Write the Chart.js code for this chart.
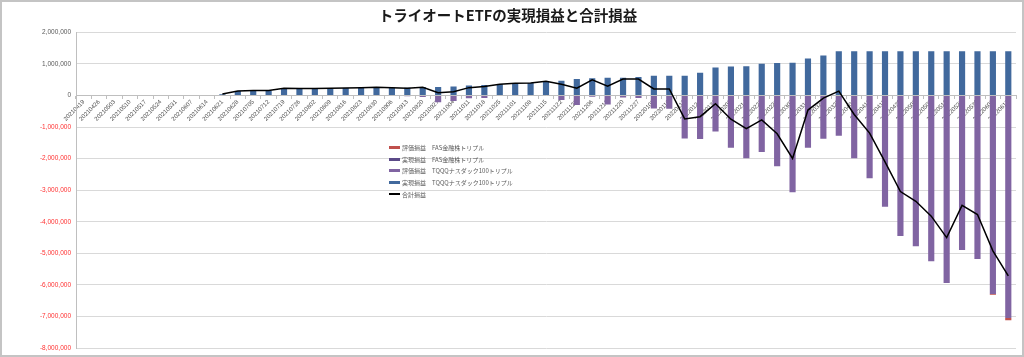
<!DOCTYPE html>
<html><head><meta charset="utf-8">
<script src="https://cdn.jsdelivr.net/npm/chart.js@4"></script>
<style>
html,body{margin:0;padding:0;background:#fff;}
#wrap{position:relative;width:1024px;height:357px;overflow:hidden;}
#frame{position:absolute;left:0;top:0;width:1024px;height:357px;box-sizing:border-box;border:2px solid #c4c4c4;pointer-events:none;}
#legend{position:absolute;left:389px;top:142px;font-family:"Noto Sans CJK JP",sans-serif;font-size:6px;color:#595959;}
.row{height:11.6px;display:flex;align-items:center;white-space:nowrap;}
.sw{width:11px;height:3px;margin-right:2px;}
.swl{width:11px;height:1.5px;margin-right:2px;background:#000;}
</style></head>
<body>
<div id="wrap"><canvas id="c" width="1024" height="357"></canvas><div id="legend"></div><div id="frame"></div></div>
<script>
const categories = ['20210419','20210426','20210503','20210510','20210517','20210524','20210531','20210607','20210614','20210621','20210628','20210705','20210712','20210719','20210726','20210802','20210809','20210816','20210823','20210830','20210906','20210913','20210920','20210927','20211004','20211011','20211018','20211025','20211101','20211108','20211115','20211122','20211129','20211206','20211213','20211220','20211227','20220103','20220110','20220117','20220124','20220131','20220207','20220214','20220221','20220228','20220307','20220314','20220321','20220328','20220404','20220411','20220418','20220425','20220502','20220509','20220516','20220523','20220530','20220606','20220613'];

const tqqqRealized = [null,null,null,null,null,null,null,null,null,
  40000,140000,160000,160000,230000,220000,220000,230000,240000,250000,260000,250000,250000,270000,270000,290000,320000,330000,360000,400000,400000,450000,470000,520000,550000,560000,560000,590000,630000,630000,630000,720000,890000,920000,930000,1010000,1030000,1040000,1170000,1270000,
  1400000,1400000,1400000,1400000,1400000,1400000,1400000,1400000,1400000,1400000,1400000,1400000];

const tqqqUnrealized = [null,null,null,null,null,null,null,null,null,
  0,0,0,0,0,0,0,0,0,0,0,0,-20000,-50000,-210000,-170000,-85000,-80000,0,0,0,0,-140000,-300000,-40000,-280000,-60000,-80000,-410000,-420000,-1360000,-1380000,-1140000,-1650000,-1990000,-1790000,-2240000,-3060000,-1650000,-1370000,-1270000,-1990000,-2620000,-3520000,-4450000,-4770000,-5250000,-5940000,-4890000,-5180000,-6290000,-7050000];

const fasRealized = [null,null,null,null,null,null,null,null,null,
  0,0,0,0,0,0,0,0,0,0,0,0,0,0,0,0,0,0,0,0,0,0,0,0,0,0,0,0,0,0,0,0,0,0,0,0,0,0,0,0,0,0,0,0,0,0,0,0,0,0,0,0];

const fasUnrealized = [null,null,null,null,null,null,null,null,null,
  0,0,0,0,0,0,0,0,0,0,0,0,0,0,0,0,0,0,0,0,0,0,0,0,0,0,0,0,0,0,0,0,0,0,0,0,0,0,0,0,0,0,0,0,0,0,0,0,0,0,-20000,-70000];

const totalPL = [null,null,null,null,null,null,null,null,null,
  50000,140000,160000,160000,230000,220000,220000,230000,240000,250000,260000,250000,230000,260000,90000,120000,250000,290000,360000,390000,400000,450000,360000,230000,500000,300000,520000,520000,210000,210000,-740000,-670000,-260000,-750000,-1050000,-770000,-1210000,-1990000,-460000,-80000,140000,-600000,-1190000,-2100000,-3040000,-3350000,-3820000,-4500000,-3480000,-3770000,-4920000,-5710000];

const yTicks = {min: -8000000, max: 2000000, step: 1000000};
const titleText = 'トライオートETFの実現損益と合計損益';

const C_BLUE = '#41699d', C_PURPLE = '#8064a2', C_DPURPLE = '#5b4a88', C_RED = '#c0504d';

const datasets = [
  {type:'bar', label:'実現損益　TQQQナスダック100トリプル', data:tqqqRealized, backgroundColor:C_BLUE, order:1},
  {type:'bar', label:'評価損益　TQQQナスダック100トリプル', data:tqqqUnrealized, backgroundColor:C_PURPLE, order:1},
  {type:'bar', label:'実現損益　FAS金融株トリプル', data:fasRealized, backgroundColor:C_DPURPLE, order:1},
  {type:'bar', label:'評価損益　FAS金融株トリプル', data:fasUnrealized, backgroundColor:C_RED, order:1},
  {type:'line', label:'合計損益', data:totalPL, borderColor:'#000', backgroundColor:'#000', borderWidth:1.5, pointRadius:0, tension:0, stack:'total', order:0}
];
datasets.forEach(d => { if (d.type === 'bar') { d.stack = 'pl'; d.barPercentage = 0.4; d.categoryPercentage = 1.0; } });

const chart = new Chart(document.getElementById('c'), {
  data: {labels: categories, datasets},
  options: {
    responsive: false, animation: false,
    layout: {padding: {left: 0, right: 8, top: 0, bottom: 8}},
    plugins: {
      legend: {display: false},
      tooltip: {enabled: false},
      title: {display: true, text: titleText, color: '#1a1a1a',
        font: {family: '"Noto Sans CJK JP"', size: 14.5, weight: 'bold'}, padding: {top: 7, bottom: 8}}
    },
    scales: {
      x: {
        position: {y: 0}, stacked: true, offset: true,
        grid: {display: true, drawOnChartArea: false, drawTicks: true, tickLength: 3, color: '#bfbfbf', offset: true},
        border: {display: true, color: '#bfbfbf'},
        ticks: {autoSkip: false, minRotation: 45, maxRotation: 45, padding: 0, color: '#4d4d4d',
          font: {family: '"Liberation Sans"', size: 6}}
      },
      y: {
        stacked: true, min: yTicks.min, max: yTicks.max,
        grid: {color: '#d9d9d9', drawTicks: false},
        border: {display: true, color: '#bfbfbf'},
        ticks: {stepSize: yTicks.step, padding: 5,
          callback: v => Number(v).toLocaleString('en-US'),
          color: ctx => (ctx.tick && ctx.tick.value < 0) ? '#ff3030' : '#595959',
          font: {family: '"Liberation Sans"', size: 6.5}},
        afterFit: s => { s.width = 76; }
      }
    }
  }
});

// HTML legend built from the datasets
const legendOrder = [3, 2, 1, 0, 4];
const legendEl = document.getElementById('legend');
legendOrder.forEach(i => {
  const d = datasets[i];
  const row = document.createElement('div'); row.className = 'row';
  const sw = document.createElement('div');
  if (d.type === 'line') { sw.className = 'swl'; } else { sw.className = 'sw'; sw.style.background = d.backgroundColor; }
  const tx = document.createElement('span'); tx.textContent = d.label;
  row.appendChild(sw); row.appendChild(tx); legendEl.appendChild(row);
});
</script>
</body></html>
